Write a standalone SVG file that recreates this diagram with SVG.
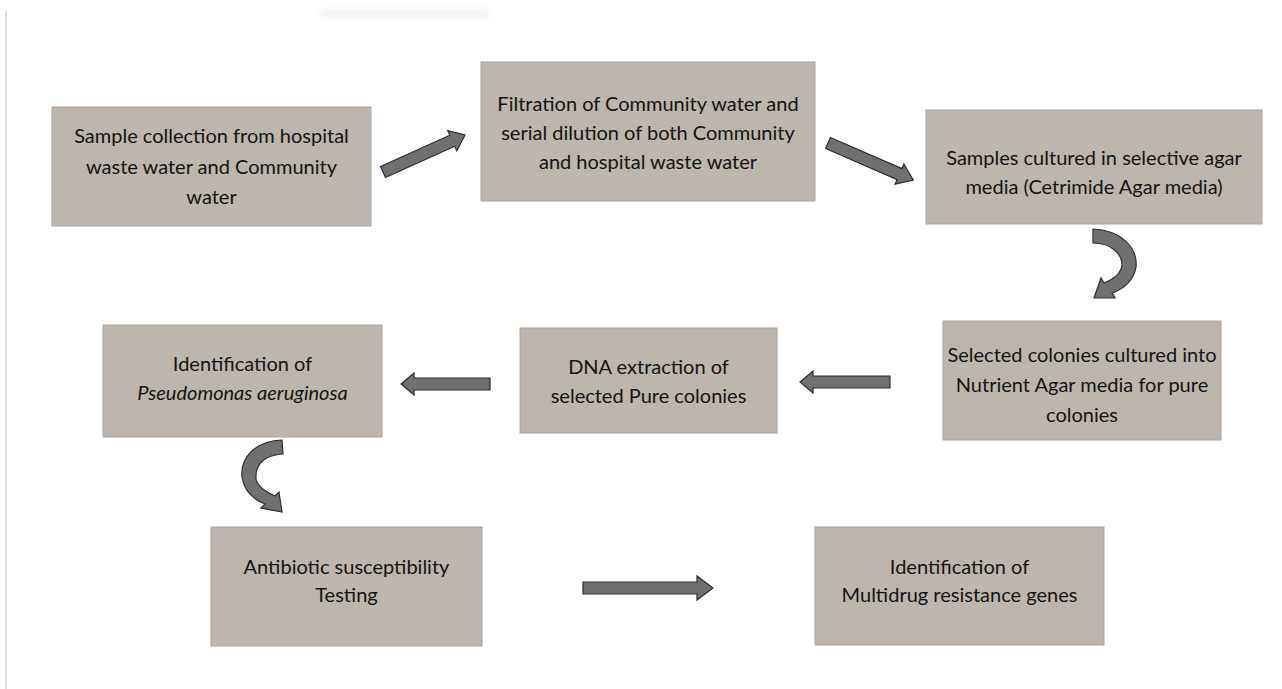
<svg xmlns="http://www.w3.org/2000/svg" width="1282" height="689" viewBox="0 0 1282 689">
<defs>
<filter id="blur" x="-10%" y="-100%" width="120%" height="300%"><feGaussianBlur stdDeviation="3"/></filter>
</defs>
<style>
.box{fill:#bcb6ae;stroke:#a9a49d;stroke-width:1}
.t{font-family:Lato,"Open Sans","Liberation Sans",sans-serif;font-size:20px;fill:#141414;text-anchor:middle}
.it{font-style:italic}
.arr{fill:#707070;stroke:#2e2e2e;stroke-width:1.2;stroke-linejoin:miter}
</style>
<rect x="0" y="0" width="1282" height="689" fill="#ffffff"/>
<line x1="6" y1="11" x2="6" y2="689" stroke="#d4d4d4" stroke-width="1.5"/>
<rect x="320" y="10" width="170" height="7" fill="#f1f1f1" filter="url(#blur)"/>

<g id="node-sample-collection">
<rect class="box" x="52" y="107" width="319" height="119"/>
<text class="t" x="211.5" y="143">Sample collection from hospital</text>
<text class="t" x="211.5" y="174">waste water and Community</text>
<text class="t" x="211.5" y="204">water</text>
</g>
<g id="node-filtration">
<rect class="box" x="481" y="62" width="334" height="139"/>
<text class="t" x="648" y="111">Filtration of Community water and</text>
<text class="t" x="648" y="140">serial dilution of both Community</text>
<text class="t" x="648" y="169">and hospital waste water</text>
</g>
<g id="node-selective-agar">
<rect class="box" x="926" y="110" width="336" height="114"/>
<text class="t" x="1094" y="165">Samples cultured in selective agar</text>
<text class="t" x="1094" y="194">media (Cetrimide Agar media)</text>
</g>
<g id="node-nutrient-agar">
<rect class="box" x="943" y="321" width="278" height="119"/>
<text class="t" x="1082" y="362">Selected colonies cultured into</text>
<text class="t" x="1082" y="392">Nutrient Agar media for pure</text>
<text class="t" x="1082" y="422">colonies</text>
</g>
<g id="node-dna-extraction">
<rect class="box" x="520" y="328" width="257" height="105"/>
<text class="t" x="648.5" y="374">DNA extraction of</text>
<text class="t" x="648.5" y="403">selected Pure colonies</text>
</g>
<g id="node-identification-pa">
<rect class="box" x="103" y="325" width="279" height="112"/>
<text class="t" x="242.5" y="371">Identification of</text>
<text class="t it" x="242.5" y="400">Pseudomonas aeruginosa</text>
</g>
<g id="node-ast">
<rect class="box" x="211" y="527" width="271" height="119"/>
<text class="t" x="346.5" y="574">Antibiotic susceptibility</text>
<text class="t" x="346.5" y="602">Testing</text>
</g>
<g id="node-mdr-genes">
<rect class="box" x="815" y="527" width="289" height="118"/>
<text class="t" x="959.5" y="574">Identification of</text>
<text class="t" x="959.5" y="602">Multidrug resistance genes</text>
</g>

<g id="connectors">
<polygon class="arr" transform="translate(383,172) rotate(-24.3)" points="0,-6 76,-6 76,-11 90,0 76,11 76,6 0,6"/>
<polygon class="arr" transform="translate(828,143) rotate(23.5)" points="0,-6 78,-6 78,-11 93,0 78,11 78,6 0,6"/>
<path class="arr" d="M1093,229 C1120,230 1138,247 1136,267 C1134,280 1124,289 1112,293 L1115,298 L1094,298 L1101,278 L1104,283 C1114,279 1121,273 1122,265 C1122,253 1110,243 1093,243 Z"/>
<polygon class="arr" points="890,376 813,376 813,371 800,382 813,393 813,388 890,388"/>
<polygon class="arr" points="490,378 414,378 414,373 401,384 414,395 414,390 490,390"/>
<path class="arr" d="M282,440 C255,441 240,458 242,477 C244,492 255,500 265,504 L261,508 L282,512 L279,492 L275,496 C262,490 255,483 256,476 C256,463 266,455 283,454 Z"/>
<polygon class="arr" points="583,582 697,582 697,576 713,588 697,600 697,594 583,594"/>
</g>
</svg>
